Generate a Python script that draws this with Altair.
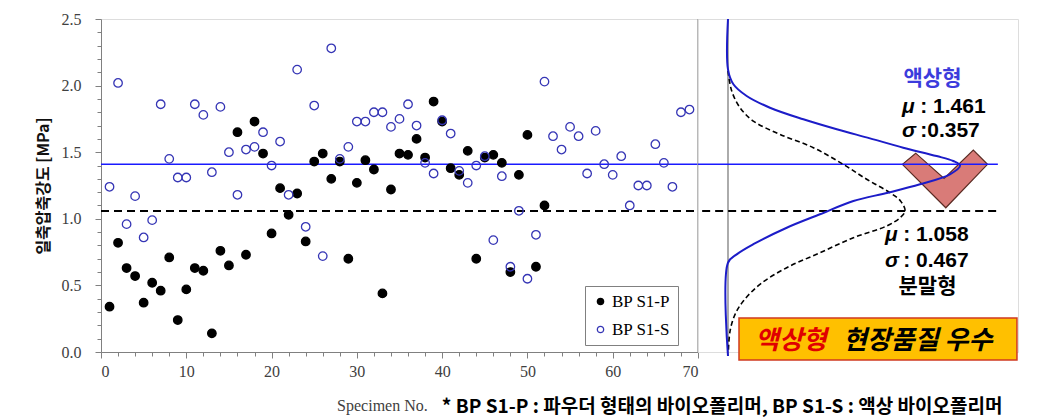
import altair as alt
import pandas as pd

# ---------------- data ----------------
specimen_p = list(range(1, 53))
strength_p = [0.34, 0.82, 0.63, 0.57, 0.37, 0.52, 0.46, 0.71, 0.24, 0.47,
              0.63, 0.61, 0.14, 0.76, 0.65, 1.65, 0.73, 1.73, 1.49, 0.89,
              1.23, 1.03, 1.19, 0.83, 1.43, 1.49, 1.30, 1.43, 0.70, 1.27,
              1.44, 1.37, 0.44, 1.22, 1.49, 1.48, 1.60, 1.46, 1.88, 1.73,
              1.38, 1.33, 1.51, 0.70, 1.46, 1.48, 1.42, 0.60, 1.33, 1.63,
              0.64, 1.10]
specimen_s = list(range(1, 70))
strength_s = [1.24, 2.02, 0.96, 1.17, 0.86, 0.99, 1.86, 1.45, 1.31, 1.31,
              1.86, 1.78, 1.35, 1.84, 1.50, 1.18, 1.52, 1.54, 1.65, 1.40,
              1.58, 1.18, 2.12, 0.94, 1.85, 0.72, 2.28, 1.45, 1.54, 1.73,
              1.73, 1.80, 1.80, 1.69, 1.75, 1.86, 1.70, 1.42, 1.34, 1.74,
              1.64, 1.36, 1.27, 1.40, 1.47, 0.84, 1.32, 0.64, 1.06, 0.55,
              0.88, 2.03, 1.62, 1.52, 1.69, 1.62, 1.34, 1.66, 1.41, 1.33,
              1.47, 1.10, 1.25, 1.25, 1.56, 1.42, 1.24, 1.80, 1.82]
series_names = ["BP S1-P", "BP S1-S"]

mean_line_s = 1.41    # blue solid line as drawn
mean_line_p = 1.058   # black dashed line

# distribution curves (strength level, relative density)
curve_s_v = [2.50, 2.122, 2.010, 1.922, 1.834, 1.747, 1.672, 1.604, 1.534, 1.471, 1.434,
             1.400, 1.334, 1.259, 1.196, 1.134, 1.034, 0.933, 0.809, 0.733, 0.670, -0.03]
curve_s_d = [0.0, 0.0, 0.026, 0.090, 0.202, 0.363, 0.524, 0.684, 0.844, 1.005, 1.085,
             1.118, 1.069, 0.925, 0.771, 0.604, 0.443, 0.283, 0.122, 0.042, 0.0, 0.0]
curve_p_v = [2.110, 1.959, 1.834, 1.734, 1.634, 1.534, 1.409, 1.297, 1.196, 1.134, 1.059,
             1.008, 0.946, 0.858, 0.745, 0.633, 0.508, 0.383, 0.283, 0.158, 0.008]
curve_p_d = [0.0, 0.018, 0.058, 0.122, 0.250, 0.411, 0.555, 0.668, 0.780, 0.831, 0.853,
             0.829, 0.764, 0.604, 0.443, 0.283, 0.154, 0.074, 0.034, 0.010, 0.002]

y_major = [0.0, 0.5, 1.0, 1.5, 2.0, 2.5]
y_minor = [round(i * 0.1, 1) for i in range(26) if i % 5 != 0]
x_major = list(range(0, 71, 10))
x_minor = [i for i in range(0, 71, 2) if i % 10 != 0]

# ---------------- styling ----------------
SERIF = "Liberation Serif"
KR = "Noto Sans CJK KR"
SANS = "Liberation Sans"
GRAY = "#808080"
BLUE_LINE = "#1a1aff"
BLUE_PT = "#3535b5"
CURVE_BLUE = "#1c1cc8"

YDOM = [0, 2.5]
XDOM = [0, 70]
RDOM = [-0.1445, 1.397]

points = pd.DataFrame({
    "n": specimen_p + specimen_s,
    "v": strength_p + strength_s,
    "series": [series_names[0]] * len(specimen_p) + [series_names[1]] * len(specimen_s),
})

yscale = alt.Scale(domain=YDOM, nice=False, zero=False)
xscale = alt.Scale(domain=XDOM, nice=False, zero=False)
rscale = alt.Scale(domain=RDOM, nice=False, zero=False)

y_axis = alt.Axis(
    values=y_major, format=".1f", title="일축압축강도 [MPa]", grid=False, orient="left",
    tickSize=6, labelFont=SERIF, labelFontSize=16, labelColor="#404040", labelPadding=14,
    labelOverlap=False, domainColor=GRAY, tickColor=GRAY,
    titleFont=KR, titleFontSize=16, titleFontWeight="bold", titleColor="#111111",
    titlePadding=10,
)
x_axis = alt.Axis(
    values=x_major, format="d", title=None, grid=False, orient="bottom",
    tickSize=6, labelFont=SERIF, labelFontSize=16, labelColor="#404040", labelPadding=5,
    labelOverlap=False, domainColor=GRAY, tickColor=GRAY,
)
y_axis_minor = alt.Axis(values=y_minor, labels=False, domain=False, title=None, grid=False,
                        orient="left", tickSize=4, tickColor=GRAY)
x_axis_minor = alt.Axis(values=x_minor, labels=False, domain=False, title=None, grid=False,
                        orient="bottom", tickSize=4, tickColor=GRAY)


def lx(field, axis=None):
    return alt.X(field, scale=xscale, axis=axis)


def ly(field, axis=None):
    return alt.Y(field, scale=yscale, axis=axis)


hline_s_left = alt.Chart(pd.DataFrame({"x0": [XDOM[0]], "x1": [XDOM[1]], "v": [mean_line_s]})).mark_rule(
    color=BLUE_LINE, strokeWidth=1.6).encode(x=lx("x0:Q", x_axis), x2="x1:Q", y=ly("v:Q", y_axis))
minor_ticks = alt.Chart(pd.DataFrame({"x": [XDOM[0]], "y": [YDOM[0]]})).mark_point(opacity=0).encode(
    x=lx("x:Q", x_axis_minor), y=ly("y:Q", y_axis_minor))
hline_p_left = alt.Chart(pd.DataFrame({"x0": [XDOM[0]], "x1": [XDOM[1]], "v": [mean_line_p]})).mark_rule(
    color="black", strokeWidth=2, strokeDash=[8, 5]).encode(x=lx("x0:Q"), x2="x1:Q", y=ly("v:Q"))
right_border = alt.Chart(pd.DataFrame({"x": [XDOM[1]], "y0": [YDOM[0]], "y1": [YDOM[1]]})).mark_rule(
    color="#a0a0a0", strokeWidth=1.5).encode(x=lx("x:Q"), y=ly("y0:Q"), y2="y1:Q")

legend = alt.Legend(
    title=None, orient="none", legendX=484, legendY=267, direction="vertical",
    labelFont=SERIF, labelFontSize=17, labelColor="black", symbolType="circle",
    symbolSize=40, symbolStrokeWidth=1.3, padding=7, rowPadding=10, labelOffset=3,
    strokeColor=GRAY, fillColor="white", cornerRadius=0,
)
scatter = alt.Chart(points).mark_point(shape="circle", size=72, opacity=1, strokeWidth=1.3).encode(
    x=lx("n:Q"),
    y=ly("v:Q"),
    stroke=alt.Stroke("series:N", scale=alt.Scale(domain=series_names, range=["black", BLUE_PT]), legend=legend),
    fill=alt.Fill("series:N", scale=alt.Scale(domain=series_names, range=["black", "transparent"]), legend=legend),
)

xtitle = alt.Chart(pd.DataFrame({"n": [33.0], "v": [-0.405], "t": ["Specimen No."]})).mark_text(
    font=SERIF, fontSize=16, color="#404040", align="center", baseline="middle").encode(
    x=lx("n:Q"), y=ly("v:Q"), text="t:N")

left = alt.layer(hline_s_left, minor_ticks, hline_p_left, right_border, scatter, xtitle).resolve_axis(
    x="independent", y="independent").properties(width=597, height=333)

# ---------------- right panel ----------------
def rx(field):
    return alt.X(field, scale=rscale, axis=None)


def ry(field):
    return alt.Y(field, scale=yscale, axis=None)


axis_r = alt.Chart(pd.DataFrame({"d": [0.0], "y0": [-0.03], "y1": [YDOM[1]]})).mark_rule(
    color="#909090", strokeWidth=1.5).encode(x=rx("d:Q"), y=ry("y0:Q"), y2="y1:Q")

chevron_path = "M-0.99,-0.34 L-0.68,-0.6 L-0.02,-0.01 L0.66,-0.67 L0.99,-0.34 L0.02,0.67 Z"
chevron = alt.Chart(pd.DataFrame({"d": [1.045], "v": [1.299]})).mark_point(
    shape=chevron_path, size=7396, filled=True, fill="#d97b78", stroke="#5a2a22",
    strokeWidth=1.2, opacity=1, fillOpacity=1).encode(x=rx("d:Q"), y=ry("v:Q"))

hline_s_right = alt.Chart(pd.DataFrame({"d0": [RDOM[0]], "d1": [1.30], "v": [mean_line_s]})).mark_rule(
    color=BLUE_LINE, strokeWidth=1.6).encode(x=rx("d0:Q"), x2="d1:Q", y=ry("v:Q"))
hline_p_right = alt.Chart(pd.DataFrame({"d0": [RDOM[0] + 0.02], "d1": [1.30], "v": [mean_line_p]})).mark_rule(
    color="black", strokeWidth=2, strokeDash=[8, 5]).encode(x=rx("d0:Q"), x2="d1:Q", y=ry("v:Q"))

curve_s = alt.Chart(pd.DataFrame({"i": range(len(curve_s_v)), "v": curve_s_v, "d": curve_s_d})).mark_line(
    color=CURVE_BLUE, strokeWidth=2, interpolate="catmull-rom").encode(
    x=rx("d:Q"), y=ry("v:Q"), order="i:Q")
curve_p = alt.Chart(pd.DataFrame({"i": range(len(curve_p_v)), "v": curve_p_v, "d": curve_p_d})).mark_line(
    color="black", strokeWidth=1.6, strokeDash=[5, 3], interpolate="catmull-rom").encode(
    x=rx("d:Q"), y=ry("v:Q"), order="i:Q")


def label(d, v, text, color="black", size=21, align="left", font=SANS, style="normal"):
    return alt.Chart(pd.DataFrame({"d": [d], "v": [v], "t": [text]})).mark_text(
        font=font, fontSize=size, fontWeight="bold", fontStyle=style, color=color, align=align,
        baseline="middle").encode(x=rx("d:Q"), y=ry("v:Q"), text="t:N")


SYM_GAP = 0.088
t1 = label(0.985, 2.05, "액상형", color="#3c3cdc", align="center", font=KR)
t2a = label(0.838, 1.839, "μ", style="italic")
t2b = label(0.838 + SYM_GAP, 1.839, ": 1.461")
t3a = label(0.838, 1.659, "σ", style="italic")
t3b = label(0.838 + SYM_GAP, 1.659, ":0.357")
t4a = label(0.756, 0.878, "μ", style="italic")
t4b = label(0.756 + SYM_GAP, 0.878, ": 1.058")
t5a = label(0.756, 0.683, "σ", style="italic")
t5b = label(0.756 + SYM_GAP, 0.683, ": 0.467")
t6 = label(0.961, 0.488, "분말형", align="center", font=KR)

box = alt.Chart(pd.DataFrame({"d0": [0.053], "d1": [1.392], "v0": [0.255], "v1": [-0.06]})).mark_rect(
    fill="#ffc000", stroke="#d03a20", strokeWidth=1.5).encode(
    x=rx("d0:Q"), x2="d1:Q", y=ry("v0:Q"), y2="v1:Q")
box_t1 = label(0.13, 0.083, "액상형", color="#e00000", size=26, font=KR, style="italic")
box_t2 = label(0.554, 0.083, "현장품질 우수", color="black", size=26, font=KR, style="italic")

footnote = label(1.322, -0.41, "* BP S1-P : 파우더 형태의 바이오폴리머, BP S1-S : 액상 바이오폴리머",
                 size=19, align="right", font=KR)

right = alt.layer(axis_r, chevron, hline_s_right, hline_p_right, curve_p, curve_s,
                  t1, t2a, t2b, t3a, t3b, t4a, t4b, t5a, t5b, t6,
                  box, box_t1, box_t2, footnote).properties(width=320, height=333)

chart = alt.hconcat(left, right, spacing=0, bounds="flush").resolve_scale(
    x="independent", y="independent", stroke="independent", fill="independent"
).properties(
    padding={"left": 26, "top": 2, "right": 0, "bottom": 0}
).configure_view(stroke=None).configure(background="white")

chart.save("out.html", embed_options={"renderer": "svg", "actions": False})
